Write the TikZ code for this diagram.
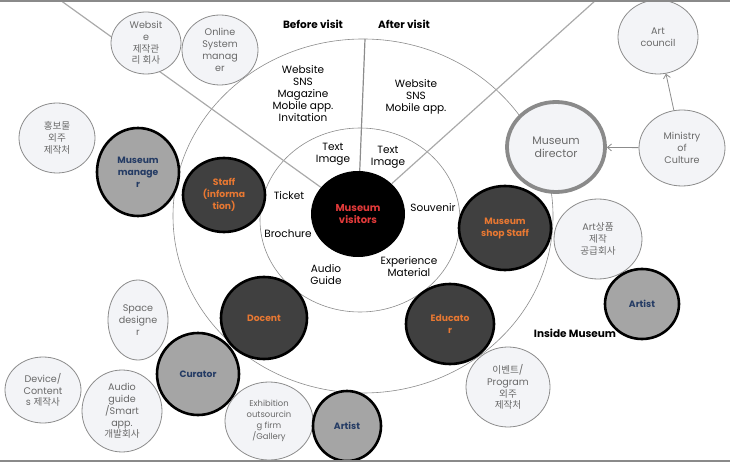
\documentclass[tikz,border=0pt]{standalone}
\usepackage{fontspec}
\setmainfont{Poppins}
\newfontfamily\kr{Noto Sans CJK KR}
\usetikzlibrary{positioning, shapes.geometric, arrows.meta}
\definecolor{lightfill}{RGB}{243,244,247}
\definecolor{partnerline}{RGB}{140,140,140}
\definecolor{partnertext}{RGB}{105,105,105}
\definecolor{darkfill}{RGB}{64,64,64}
\definecolor{stafftext}{RGB}{232,120,50}
\definecolor{midfill}{RGB}{165,165,165}
\definecolor{managertext}{RGB}{36,59,100}
\definecolor{visitortext}{RGB}{226,58,58}
\definecolor{linegray}{RGB}{170,170,170}
\definecolor{framegray}{RGB}{138,138,138}
\tikzset{
  ring/.style={ellipse, draw=partnerline, line width=0.6pt, inner sep=0pt},
  partner/.style={ellipse, draw=partnerline, fill=lightfill, text=partnertext, line width=0.8pt,
    inner sep=0pt, align=center, font=\fontsize{9.6}{11.8}\selectfont},
  staff/.style={ellipse, draw=black, fill=darkfill, text=stafftext, line width=2.6pt,
    inner sep=0pt, align=center, font=\bfseries\fontsize{9.2}{12}\selectfont},
  manager/.style={staff, fill=midfill, text=managertext},
  director/.style={partner, draw=framegray, line width=3.8pt, font=\fontsize{11}{13}\selectfont},
  media/.style={align=center, inner sep=0pt, font=\fontsize{10.5}{12}\selectfont},
  visitlabel/.style={inner sep=0pt, font=\bfseries\fontsize{10.5}{12}\selectfont},
  link/.style={draw=linegray, line width=1.2pt},
  flow/.style={draw=partnerline, line width=0.8pt, -{Straight Barb[length=4pt, width=7pt]}},
  frame/.style={draw=framegray, line width=1.6pt}
}

\begin{document}
\begin{tikzpicture}[x=1pt, y=-1pt]
\useasboundingbox (0,0) rectangle (730,462);

\node[ring, minimum width=380pt, minimum height=354pt](outer) at (363,216){};
\node[ring, minimum width=200pt, minimum height=184pt](inner) at (360,220){};
\node[ellipse, fill=black, minimum width=94pt, minimum height=86pt, inner sep=0pt,
  text=visitortext, align=center, font=\bfseries\fontsize{10}{12}\selectfont](visitors) at (358,214){Museum\\visitors};

\coordinate (lefttop) at (60,0);
\coordinate (midtop) at (365,39);
\coordinate (righttop) at (596,0);
\draw[link] (lefttop) -- (visitors);
\draw[link, draw=partnerline] (midtop) -- (visitors);
\draw[link] (righttop) -- (visitors);

\node[visitlabel](before) at (313,24){Before visit};
\node[visitlabel](after) at (404,24){After visit};
\node[media](beforemedia) at (303,94){Website\\SNS\\Magazine\\Mobile app.\\Invitation};
\node[media](aftermedia) at (416,97){Website\\SNS\\Mobile app.};
\node[media](textleft) at (333,154){Text\\Image};
\node[media](textright) at (388,157){Text\\Image};
\node[media](ticket) at (289,196){Ticket};
\node[media](souvenir) at (433,208){Souvenir};
\node[media](brochure) at (288,234){Brochure};
\node[media](audio) at (326,275){Audio\\Guide};
\node[media](experience) at (409,267){Experience\\Material};
\node[visitlabel](inside) at (575,333){Inside Museum};

\node[partner, minimum width=70pt, minimum height=62pt](website) at (146,43){Websit\\e\\{\kr 제작관}\\{\kr 리 회사}};
\node[partner, minimum width=76pt, minimum height=70pt](online) at (220,50){Online\\System\\manag\\er};
\node[partner, minimum width=76pt, minimum height=70pt](promo) at (57,138){{\kr 홍보물}\\{\kr 외주}\\{\kr 제작처}};
\node[manager, minimum width=82pt, minimum height=88pt](manager) at (138,172){Museum\\manage\\r};
\node[staff, minimum width=82pt, minimum height=74pt](info) at (224,195){Staff\\(informa\\tion)};

\node[director, minimum width=98pt, minimum height=90pt](director) at (556,147){Museum\\director};
\node[partner, minimum width=80pt, minimum height=74pt](council) at (658,37){Art\\council};
\node[partner, minimum width=86pt, minimum height=76pt](ministry) at (682,148){Ministry\\of\\Culture};
\draw[flow] (ministry) -- (council);
\draw[flow] (ministry) -- (director);

\node[staff, minimum width=92pt, minimum height=84pt](shop) at (505,228){Museum\\shop Staff};
\node[partner, minimum width=88pt, minimum height=80pt](goods) at (598,239){Art{\kr 상품}\\{\kr 제작}\\{\kr 공급회사}};
\node[manager, minimum width=74pt, minimum height=70pt](artistright) at (642,304){Artist};
\node[staff, minimum width=88pt, minimum height=80pt](educator) at (450,324){Educato\\r};
\node[partner, minimum width=84pt, minimum height=80pt](event) at (508,387){{\kr 이벤트}/\\Program\\{\kr 외주}\\{\kr 제작처}};

\node[staff, minimum width=86pt, minimum height=82pt](docent) at (264,318){Docent};
\node[manager, minimum width=82pt, minimum height=82pt](curator) at (198,374){Curator};
\node[partner, minimum width=60pt, minimum height=80pt](space) at (138,320){Space\\designe\\r};
\node[partner, minimum width=80pt, minimum height=82pt](guide) at (122,411){Audio\\guide\\/Smart\\app.\\{\kr 개발회사}};
\node[partner, minimum width=76pt, minimum height=66pt](device) at (43,390){Device/\\Content\\s {\kr 제작사}};
\node[partner, minimum width=88pt, minimum height=78pt, font=\fontsize{8.4}{11}\selectfont](gallery) at (269,421){Exhibition\\outsourcin\\g firm\\/Gallery};
\node[manager, minimum width=68pt, minimum height=70pt](artistbottom) at (347,426){Artist};

\draw[frame] (0,0.8) -- (730,0.8);
\draw[frame] (0,461.2) -- (730,461.2);
\end{tikzpicture}
\end{document}
